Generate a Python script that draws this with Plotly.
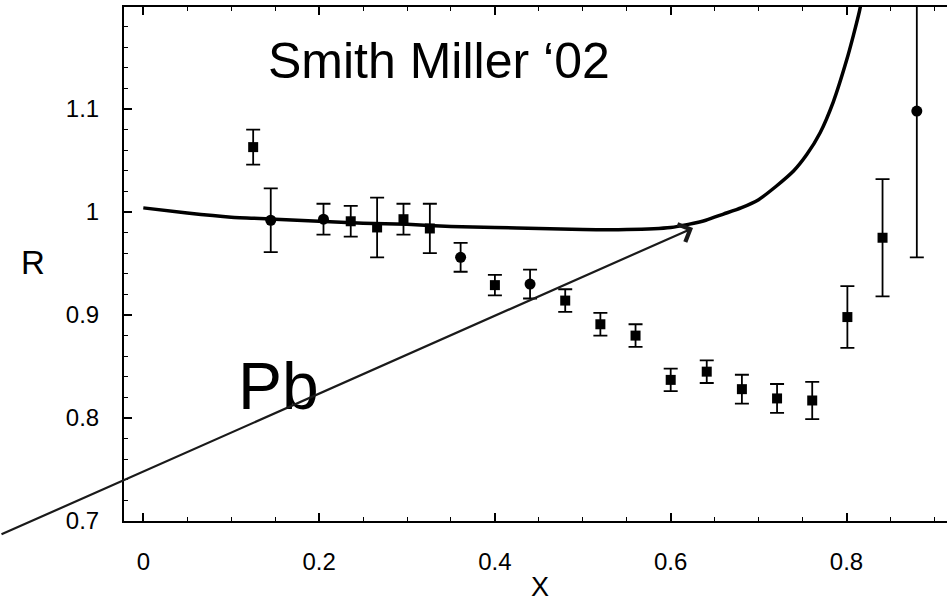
import plotly.graph_objects as go

# ---- data ----
sq_x = [0.125, 0.236, 0.266, 0.296, 0.326, 0.400, 0.480, 0.520, 0.560, 0.600, 0.641, 0.681, 0.721, 0.761, 0.801, 0.841]
sq_y = [1.063, 0.991, 0.985, 0.993, 0.984, 0.929, 0.914, 0.891, 0.880, 0.837, 0.845, 0.828, 0.819, 0.817, 0.898, 0.975]
sq_err = [0.017, 0.015, 0.029, 0.015, 0.024, 0.010, 0.011, 0.011, 0.011, 0.011, 0.011, 0.014, 0.014, 0.018, 0.030, 0.057]

ci_x = [0.145, 0.205, 0.361, 0.440, 0.880]
ci_y = [0.992, 0.993, 0.956, 0.930, 1.098]
ci_err = [0.031, 0.015, 0.014, 0.014, 0.142]

curve_x = [0.0, 0.05, 0.10, 0.15, 0.20, 0.25, 0.30, 0.35, 0.40, 0.45, 0.50, 0.55, 0.60,
           0.62, 0.64, 0.66, 0.68, 0.70, 0.72, 0.74, 0.755, 0.77, 0.785, 0.80, 0.808, 0.815, 0.818]
curve_y = [1.004, 0.999, 0.995, 0.993, 0.991, 0.989, 0.988, 0.986, 0.985, 0.984, 0.983, 0.983, 0.985,
           0.988, 0.992, 0.998, 1.004, 1.012, 1.025, 1.040, 1.056, 1.077, 1.107, 1.147, 1.172, 1.196, 1.210]

x_ticks = [0, 0.2, 0.4, 0.6, 0.8]
y_ticks = [0.7, 0.8, 0.9, 1.0, 1.1]
y_tick_text = ["0.7", "0.8", "0.9", "1", "1.1"]

FONT = "Liberation Sans, Arial, sans-serif"

# pixel geometry of plot area
W, H = 947, 604
L, T, B = 124, 7, 83
X0PX, XSCALE = 143.3, 879.0   # px of x=0, px per unit
Y07PX, YSCALE = 521.0, 1030.0  # px of R=0.7, px per unit

def dx(px):
    return (px - X0PX) / XSCALE

def dy(py):
    return 0.7 + (Y07PX - py) / YSCALE

def px_paper(px):
    return (px - L) / (W - L)

def py_paper(py):
    return (H - B - py) / (H - B - T)

fig = go.Figure()

fig.add_trace(go.Scatter(
    x=curve_x, y=curve_y, mode="lines",
    line=dict(color="black", width=3.5, shape="spline", smoothing=0.5),
    showlegend=False, hoverinfo="skip", cliponaxis=True))

fig.add_trace(go.Scatter(
    x=sq_x, y=sq_y, mode="markers",
    marker=dict(symbol="square", size=10, color="black"),
    error_y=dict(type="data", array=sq_err, visible=True, color="black", thickness=1.8, width=7),
    showlegend=False))

fig.add_trace(go.Scatter(
    x=ci_x, y=ci_y, mode="markers",
    marker=dict(symbol="circle", size=11, color="black"),
    error_y=dict(type="data", array=ci_err, visible=True, color="black", thickness=1.8, width=7),
    showlegend=False))

annotations = [
    dict(x=px_paper(439), y=py_paper(61), xref="paper", yref="paper", text="Smith Miller \u201802",
         showarrow=False, font=dict(family=FONT, size=50, color="black"),
         xanchor="center", yanchor="middle"),
    dict(x=px_paper(278), y=py_paper(386), xref="paper", yref="paper", text="Pb",
         showarrow=False, font=dict(family=FONT, size=66, color="black"),
         xanchor="center", yanchor="middle"),
    dict(x=px_paper(33), y=py_paper(262), xref="paper", yref="paper", text="R",
         showarrow=False, font=dict(family=FONT, size=33, color="black"),
         xanchor="center", yanchor="middle"),
    dict(x=px_paper(540), y=py_paper(604), xref="paper", yref="paper", text="X",
         showarrow=False, font=dict(family=FONT, size=27, color="black"),
         xanchor="center", yanchor="bottom"),
    dict(x=dx(693), y=dy(228), xref="x", yref="y", text="",
         showarrow=True, arrowhead=4, arrowsize=1.7, arrowwidth=2.2, arrowcolor="#1a1a1a",
         ax=-693, ay=307, axref="pixel", ayref="pixel", standoff=0, startstandoff=0),
]

fig.update_layout(
    width=W, height=H,
    margin=dict(l=L, r=0, t=T, b=B, pad=0),
    paper_bgcolor="white", plot_bgcolor="white",
    font=dict(family=FONT, color="black"),
    annotations=annotations,
    xaxis=dict(
        range=[dx(L), dx(W)], tickvals=x_ticks, ticktext=[str(v) for v in x_ticks],
        ticks="inside", ticklen=8, tickwidth=1.8, tickcolor="black",
        showline=True, linecolor="black", linewidth=2, mirror="allticks",
        showgrid=False, zeroline=False,
        tickfont=dict(family=FONT, size=24, color="black"),
        ticklabelstandoff=18,
        minor=dict(dtick=0.05, tick0=0, ticks="inside", ticklen=4, tickwidth=1.2, tickcolor="black"),
    ),
    yaxis=dict(
        range=[0.7, dy(T)], tickvals=y_ticks, ticktext=y_tick_text,
        ticks="inside", ticklen=8, tickwidth=1.8, tickcolor="black",
        showline=True, linecolor="black", linewidth=2, mirror=False,
        showgrid=False, zeroline=False,
        tickfont=dict(family=FONT, size=24, color="black"),
        ticklabelstandoff=18,
        minor=dict(dtick=0.02, tick0=0.7, ticks="inside", ticklen=4, tickwidth=1.2, tickcolor="black"),
    ),
)

fig.write_html("out.html")
